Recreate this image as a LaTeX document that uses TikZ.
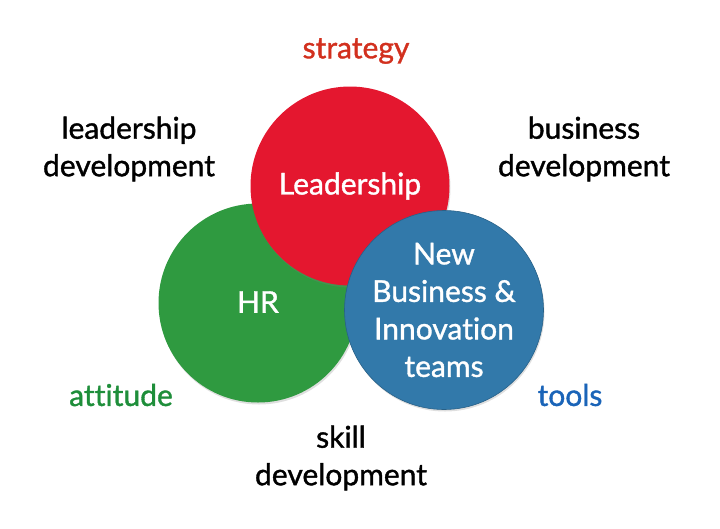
\documentclass[tikz,border=0pt]{standalone}
\usepackage{fontspec}
\setmainfont{Lato}
\newfontfamily\medfont{Lato}[FakeBold=1.2, Ligatures=NoCommon]
\usetikzlibrary{shadows}
\definecolor{leadred}{HTML}{E4172F}
\definecolor{hrgreen}{HTML}{2F9A40}
\definecolor{nbblue}{HTML}{3279AA}
\definecolor{txtred}{HTML}{D2301E}
\definecolor{txtgreen}{HTML}{1E8E3A}
\definecolor{txtblue}{HTML}{1A64B8}

\begin{document}
\begin{tikzpicture}[%
        x = 1pt, y = -1pt,
        circ/.style = {circle, minimum size=199pt, inner sep=0pt,
                       drop shadow={opacity=0.25, shadow xshift=1pt, shadow yshift=-2pt}},
        lbl/.style = {font=\medfont\fontsize{30}{37.5}\selectfont, align=center, inner sep=0pt}
    ]
      \useasboundingbox (0,0) rectangle (720,528);
      \node[circ, fill=hrgreen] (hr) at (258,303) {};
      \node[circ, fill=leadred] (lead) at (350,186) {};
      \node[circ, fill=nbblue, draw=nbblue!80!black, line width=0.6pt] (nb) at (444,310) {};
      \node[lbl, white] (tlead) at (350,186) {Leadership};
      \node[lbl, white] (thr) at (258,302) {HR};
      \node[lbl, white] (tnb) at (444,310) {New\\Business \&\\Innovation\\teams};
      \node[lbl, txtred] (strat) at (356,51) {strategy};
      \node[lbl] (ldev) at (129,149) {leadership\\development};
      \node[lbl] (bdev) at (584,149) {business\\development};
      \node[lbl, txtgreen] (att) at (121,395) {attitude};
      \node[lbl, txtblue] (tools) at (570,395) {tools};
      \node[lbl] (sdev) at (341,458) {skill\\development};
    \end{tikzpicture}
\end{document}
